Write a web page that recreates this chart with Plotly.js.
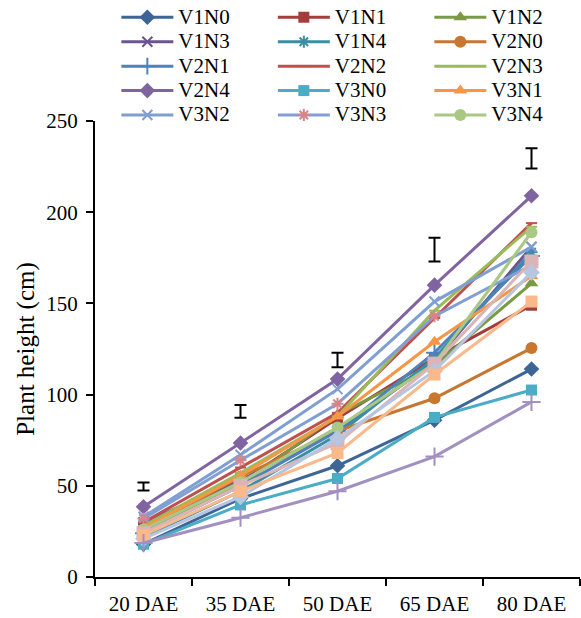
<!DOCTYPE html>
<html>
<head>
<meta charset="utf-8">
<script src="https://cdn.plot.ly/plotly-3.0.1.min.js"></script>
<style>html,body{margin:0;padding:0;background:#fff;}#chart{width:581px;height:618px;}</style>
</head>
<body>
<div id="chart"></div>
<script>
const categories = ["20 DAE", "35 DAE", "50 DAE", "65 DAE", "80 DAE"];

const seriesNames = ["V1N0","V1N1","V1N2","V1N3","V1N4","V2N0","V2N1","V2N2","V2N3","V2N4","V3N0","V3N1","V3N2","V3N3","V3N4"];
const V1N0 = [18, 43, 61, 86, 114];
const V1N1 = [27, 52, 87, 120, 149];
const V1N2 = [25, 50, 89, 116, 161];
const V1N3 = [30, 53, 80, 118, 181];
const V1N4 = [22, 47, 78, 120, 178];
const V2N0 = [26, 55, 80, 98, 125.5];
const V2N1 = [24, 50, 80, 123, 176];
const V2N2 = [30, 60, 90, 142, 194];
const V2N3 = [28, 57, 88, 146, 192];
const V2N4 = [38.5, 73.5, 108.5, 160, 209];
const V3N0 = [18, 39.5, 54, 87.5, 102.5];
const V3N1 = [27, 55.5, 88, 129, 165];
const V3N2 = [33, 67, 103, 151, 181];
const V3N3 = [32, 64, 95, 143, 171];
const V3N4 = [26, 52, 82, 117, 189];
// series drawn in the chart but not listed in its legend
const extraA = [24, 50, 73.5, 117, 173];
const extraB = [21, 44, 76, 113, 167];
const extraC = [23, 47, 68, 111, 151];
const extraD = [18.6, 32.5, 47, 66, 96];

// LSD bars
const lsdCenter = [49.6, 90.8, 119, 179.5, 229.5];
const lsdHalf = [2.2, 3.5, 4, 6.5, 5.5];

const FONT = "Liberation Serif, Times New Roman, serif";

const values = [V1N0,V1N1,V1N2,V1N3,V1N4,V2N0,V2N1,V2N2,V2N3,V2N4,V3N0,V3N1,V3N2,V3N3,V3N4];
const styles = [
  {c:"#3d6596", s:"diamond", sz:12},
  {c:"#a33c3a", s:"square", sz:11},
  {c:"#7a9a45", s:"triangle-up", sz:12},
  {c:"#6b5590", s:"x-thin-open", sz:10, open:true},
  {c:"#3a8fa4", s:"asterisk-open", sz:10, open:true},
  {c:"#c7772f", s:"circle", sz:12},
  {c:"#4f81bd", s:"cross-thin-open", sz:12, open:true},
  {c:"#c0504d", s:"line-ew-open", sz:8, open:true},
  {c:"#9bbb59", s:"line-ew-open", sz:8, open:true},
  {c:"#8064a2", s:"diamond", sz:12},
  {c:"#4bacc6", s:"square", sz:11},
  {c:"#f79646", s:"triangle-up", sz:12},
  {c:"#7f9fd2", s:"x-thin-open", sz:10, open:true},
  {c:"#819fd3", s:"asterisk-open", sz:10, open:true, mc:"#d5858a"},
  {c:"#a9c884", s:"circle", sz:12}
];

const traces = [];
values.forEach((v, i) => {
  const st = styles[i];
  const mc = st.mc || st.c;
  traces.push({
    type: "scatter", mode: "lines+markers",
    name: '<span style="font-size:21px">' + seriesNames[i] + '</span>',
    x: categories, y: v,
    line: {color: st.c, width: 3},
    marker: st.open ? {symbol: st.s, size: st.sz, color: mc, line: {color: mc, width: 2}}
                    : {symbol: st.s, size: st.sz, color: mc, line: {width: 0}}
  });
});

const extras = [
  {v: extraA, c: "#dbb4b5", s: "square", sz: 14},
  {v: extraB, c: "#b7c5e0", s: "diamond", sz: 13},
  {v: extraC, c: "#f9b98a", s: "square", sz: 12},
  {v: extraD, c: "#a190c0", s: "cross-thin-open", sz: 13, open: true}
];
extras.forEach(e => {
  traces.push({
    type: "scatter", mode: "lines+markers", showlegend: false, hoverinfo: "skip",
    x: categories, y: e.v,
    line: {color: e.c, width: 3},
    marker: e.open ? {symbol: e.s, size: e.sz, color: e.c, line: {color: e.c, width: 2}}
                   : {symbol: e.s, size: e.sz, color: e.c, line: {width: 0}}
  });
});

traces.push({
  type: "scatter", mode: "markers", showlegend: false, hoverinfo: "skip",
  x: categories, y: lsdCenter,
  marker: {size: 1, color: "rgba(0,0,0,0)"},
  error_y: {type: "data", array: lsdHalf, visible: true, color: "#000", thickness: 2, width: 6}
});

const layout = {
  width: 581, height: 618,
  margin: {l: 95, r: 1, t: 121, b: 41, autoexpand: false},
  paper_bgcolor: "#fff", plot_bgcolor: "#fff",
  font: {family: FONT, size: 21, color: "#000"},
  showlegend: true,
  legend: {
    orientation: "h", x: 0.044, xanchor: "left", y: 1.0, yref: "container", yanchor: "top",
    entrywidth: 89.5, entrywidthmode: "pixels", itemwidth: 52,
    font: {family: FONT, size: 16.5, color: "#000"},
    tracegroupgap: 0, bgcolor: "rgba(0,0,0,0)"
  },
  xaxis: {
    type: "category", categoryorder: "array", categoryarray: categories,
    range: [-0.5, 4.5], autorange: false,
    showline: true, linecolor: "#000", linewidth: 2, mirror: false,
    ticks: "outside", ticklen: 7, tickwidth: 2, tickcolor: "#000", tickson: "boundaries",
    ticklabelstandoff: 7,
    showgrid: false, zeroline: false,
    tickfont: {family: FONT, size: 21, color: "#000"}
  },
  yaxis: {
    range: [0, 250], dtick: 50, tick0: 0,
    showline: true, linecolor: "#000", linewidth: 2,
    ticks: "outside", ticklen: 7, tickwidth: 2, tickcolor: "#000",
    ticklabelstandoff: 4,
    showgrid: false, zeroline: false,
    tickfont: {family: FONT, size: 21, color: "#000"},
    title: {text: "Plant height (cm)", font: {family: FONT, size: 25, color: "#000"}, standoff: 5}
  }
};

Plotly.newPlot("chart", traces, layout, {displayModeBar: false, staticPlot: true});
</script>
</body>
</html>
